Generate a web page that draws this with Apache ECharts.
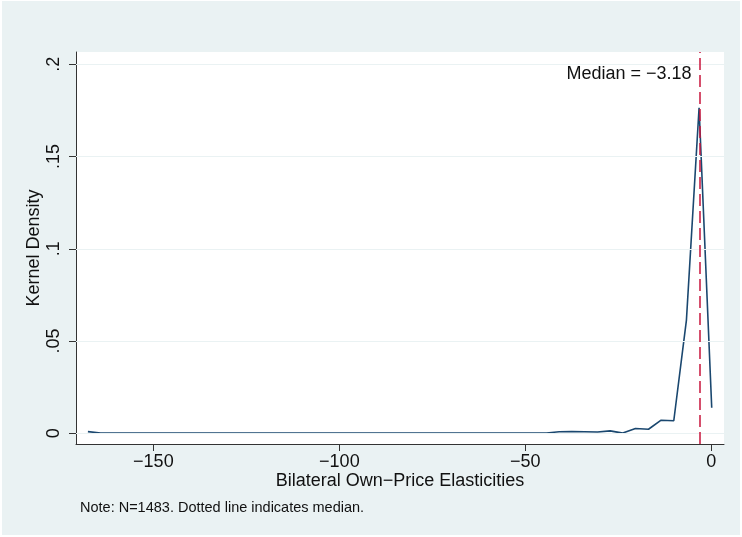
<!DOCTYPE html>
<html>
<head>
<meta charset="utf-8">
<script src="https://cdn.jsdelivr.net/npm/echarts@6/dist/echarts.min.js"></script>
<style>
html,body{margin:0;padding:0;background:#fff;}
#chart{width:742px;height:537px;}
</style>
</head>
<body>
<div id="chart"></div>
<script>
// Evaluation points (x) and kernel density estimates (y)
var xValues = [-167.6, -164.2, -160.7, -157.3, -153.9, -150.5, -147.0, -143.6, -140.2, -136.8,
  -133.3, -129.9, -126.5, -123.1, -119.7, -116.2, -112.8, -109.4, -106.0, -102.5,
  -99.1, -95.7, -92.3, -88.8, -85.4, -82.0, -78.6, -75.1, -71.7, -68.3,
  -64.9, -61.5, -58.0, -54.6, -51.2, -47.8, -44.3, -40.9, -37.5, -34.1,
  -30.6, -27.2, -23.8, -20.4, -16.9, -13.5, -10.1, -6.7, -3.3, 0.1];
var densityValues = [0.0009, 0.0002, 0.0002, 0.0002, 0.0002, 0.0002, 0.0002, 0.0002, 0.0002, 0.0002,
  0.0002, 0.0002, 0.0002, 0.0002, 0.0002, 0.0002, 0.0002, 0.0002, 0.0002, 0.0002,
  0.0002, 0.0002, 0.0002, 0.0002, 0.0002, 0.0002, 0.0002, 0.0002, 0.0002, 0.0002,
  0.0002, 0.0002, 0.0002, 0.0002, 0.0002, 0.0002, 0.0002, 0.0008, 0.0009, 0.0008,
  0.0007, 0.0013, 0.0001, 0.0026, 0.0022, 0.0071, 0.0068, 0.0614, 0.1765, 0.0139];
var xTicks = [-150, -100, -50, 0];
var yTicks = [0, 0.05, 0.1, 0.15, 0.2];
var yTickLabels = ['0', '.05', '.1', '.15', '.2'];
var medianValue = -3.18;
var medianLabel = 'Median = \u22123.18';
var xTitle = 'Bilateral Own\u2212Price Elasticities';
var yTitle = 'Kernel Density';
var noteText = 'Note: N=1483. Dotted line indicates median.';

var FONT = '"Liberation Sans", Arial, sans-serif';
var AXIS_COLOR = '#333';

var seriesData = xValues.map(function (x, i) { return [x, densityValues[i]]; });

function fmtX(v) {
  return v < 0 ? '\u2212' + Math.abs(v) : String(v);
}
function fmtY(v) {
  for (var i = 0; i < yTicks.length; i++) {
    if (Math.abs(yTicks[i] - v) < 1e-9) return yTickLabels[i];
  }
  return '';
}

var chart = echarts.init(document.getElementById('chart'), null, {renderer: 'canvas'});
chart.setOption({
  animation: false,
  backgroundColor: '#ffffff',
  graphic: [{
    type: 'rect', z: -10, silent: true,
    shape: {x: 2, y: 1, width: 738, height: 534},
    style: {fill: '#eaf2f3'}
  }, {
    type: 'text', left: 80, top: 500,
    style: {text: noteText, font: '14.5px ' + FONT, fill: '#111'}
  }],
  grid: {
    left: 76, right: 18, top: 52, bottom: 93,
    show: true, backgroundColor: '#ffffff', borderWidth: 0
  },
  xAxis: {
    type: 'value',
    min: -170.8, max: 3.4,
    name: xTitle,
    nameLocation: 'middle',
    nameGap: 28,
    nameMoveOverlap: false,
    nameTextStyle: {fontFamily: FONT, fontSize: 18, color: '#111'},
    axisLine: {show: true, onZero: false, lineStyle: {color: AXIS_COLOR, width: 1}},
    axisTick: {show: true, length: 7, customValues: xTicks, lineStyle: {color: AXIS_COLOR}},
    axisLabel: {customValues: xTicks, formatter: fmtX, fontFamily: FONT, fontSize: 18, color: '#111', margin: 9},
    splitLine: {show: false}
  },
  yAxis: {
    type: 'value',
    min: -0.0058, max: 0.2067,
    name: yTitle,
    nameLocation: 'middle',
    nameGap: 33,
    nameMoveOverlap: false,
    nameRotate: 90,
    nameTextStyle: {fontFamily: FONT, fontSize: 18, color: '#111'},
    axisLine: {show: true, onZero: false, lineStyle: {color: AXIS_COLOR, width: 1}},
    axisTick: {show: true, length: 7, customValues: yTicks, lineStyle: {color: AXIS_COLOR}},
    axisLabel: {customValues: yTicks, formatter: fmtY, rotate: 90, fontFamily: FONT, fontSize: 18, color: '#111', margin: 13},
    splitLine: {show: false}
  },
  series: [{
    type: 'line',
    data: [],
    z: 1,
    silent: true,
    markLine: {
      silent: true, symbol: 'none', label: {show: false},
      lineStyle: {color: '#eaf2f3', width: 1.2, type: 'solid'},
      data: yTicks.map(function (v) { return {yAxis: v}; })
    }
  }, {
    type: 'line',
    data: seriesData,
    z: 3,
    showSymbol: false,
    symbol: 'none',
    lineStyle: {color: '#1a476f', width: 1.6},
    markLine: {
      silent: true, symbol: 'none', label: {show: false},
      lineStyle: {color: '#c8143c', width: 1.5, type: [12, 5]},
      data: [{xAxis: medianValue}]
    },
    markPoint: {
      symbol: 'circle', symbolSize: 0,
      label: {show: true, position: 'left', distance: 8, formatter: medianLabel,
        fontFamily: FONT, fontSize: 18, color: '#111'},
      data: [{coord: [medianValue, 0.195]}]
    }
  }]
});
</script>
</body>
</html>
